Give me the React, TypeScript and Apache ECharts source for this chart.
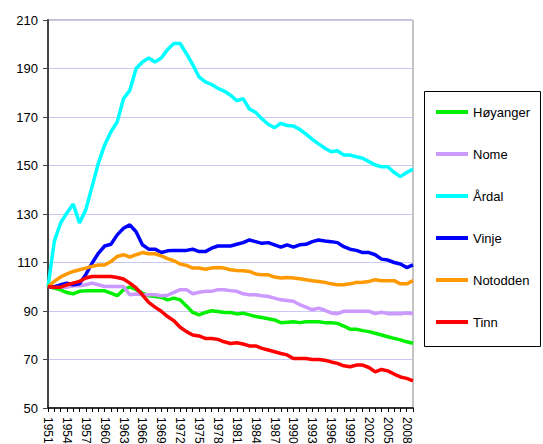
import React, { useEffect, useRef } from "react";
import * as echarts from "echarts";

const years: string[] = [];
for (let y = 1951; y <= 2009; y++) years.push(String(y));

const seriesNames = ["Høyanger", "Nome", "Årdal", "Vinje", "Notodden", "Tinn"];
const seriesColors = ["#00f000", "#cc99ff", "#00ffff", "#0000ff", "#ff9900", "#ff0000"];

const hoyanger = [100, 99.5, 98.7, 97.6, 97.1, 98.1, 98.3, 98.3, 98.3, 98.3, 97.4, 96.3, 98.8, 99.9, 98.8, 97.4, 96.3, 96.0, 95.7, 94.6,
  95.3, 94.6, 92.1, 89.4, 88.4, 89.4, 90.1, 89.8, 89.4, 89.4, 88.8, 89.1, 88.4, 87.7, 87.3, 86.8, 86.3, 85.2, 85.4, 85.6,
  85.2, 85.6, 85.6, 85.6, 85.2, 85.2, 84.9, 83.8, 82.5, 82.5, 81.9, 81.5, 80.8, 80.1, 79.4, 78.7, 78.1, 77.3, 76.7];
const nome = [100, 99.8, 99.8, 99.8, 100.4, 100.4, 100.8, 101.5, 100.8, 100.1, 100.1, 100.1, 100.1, 96.7, 97.0, 96.7, 96.7, 96.7, 96.3, 96.5,
  97.7, 98.8, 98.8, 97.1, 97.7, 98.1, 98.1, 98.8, 98.8, 98.4, 98.1, 97.1, 96.7, 96.7, 96.3, 96.0, 95.3, 94.6, 94.3, 94.0,
  92.6, 91.6, 90.5, 91.2, 90.3, 89.2, 88.9, 89.9, 89.9, 89.9, 89.9, 89.9, 88.9, 89.5, 88.9, 88.9, 88.9, 89.2, 88.9];
const ardal = [100, 118.7, 126.3, 130.4, 134.1, 126.3, 131.7, 141.3, 150.9, 158.5, 163.9, 168, 177.6, 181, 190, 192.7, 194.3, 192.7, 194.3, 197.8,
  200.3, 200.3, 196.1, 191.6, 186.5, 184.5, 183.4, 181.8, 180.7, 179, 176.7, 177.6, 173.3, 171.9, 169.2, 167, 165.6, 167.4, 166.5, 166.3,
  164.9, 162.9, 160.8, 158.9, 157.1, 155.7, 156.1, 154.3, 154.3, 153.6, 153, 151.6, 150.2, 149.5, 149.5, 147.1, 145.4, 147.1, 148.5];
const vinje = [100, 100, 100.8, 101.5, 100.8, 101.2, 105, 109.7, 113.8, 116.8, 117.5, 121.4, 124.1, 125.5, 122.7, 117.3, 115.5, 115.5, 114.1, 114.8,
  115, 115, 115, 115.5, 114.5, 114.5, 115.9, 116.8, 116.8, 116.8, 117.5, 118.2, 119.3, 118.6, 117.9, 118.2, 117.3, 116.3, 117.3, 116.3,
  117.3, 117.5, 118.6, 119.3, 118.9, 118.6, 118.2, 116.5, 115.5, 115, 114.1, 114.1, 113.2, 111.4, 111, 110, 109.4, 107.9, 109];
const notodden = [100, 102.2, 104, 105.3, 106.3, 107, 107.7, 108.4, 109, 109, 110.4, 112.5, 113.2, 112.2, 113.2, 114.1, 113.6, 113.6, 112.7, 111.6,
  110.7, 109.4, 108.8, 107.7, 107.7, 107.2, 107.7, 107.9, 107.7, 107, 106.7, 106.6, 106.3, 105.3, 104.9, 104.9, 104, 103.6, 103.8, 103.6,
  103.3, 102.9, 102.5, 102.2, 101.8, 101.2, 100.8, 100.8, 101.2, 101.8, 101.9, 102.2, 102.9, 102.5, 102.5, 102.5, 101.2, 101.2, 102.5];
const tinn = [100, 99.8, 99.8, 100.8, 101.5, 102.2, 103.6, 104.2, 104.2, 104.2, 104.2, 103.8, 103.2, 101.5, 99.5, 96.7, 93.6, 91.6, 89.9, 87.7,
  86, 83.3, 81.5, 80.1, 79.7, 78.7, 78.7, 78.3, 77.3, 76.6, 76.9, 76.4, 75.6, 75.6, 74.6, 73.9, 73.2, 72.5, 71.9, 70.4,
  70.4, 70.4, 70, 70, 69.7, 69, 68.4, 67.4, 67, 67.7, 67.7, 66.7, 64.9, 65.9, 65.3, 64, 62.8, 62.2, 61.2];

const seriesData = [hoyanger, nome, ardal, vinje, notodden, tinn];

const FONT = "'Liberation Sans', Arial, sans-serif";

export default function App() {
  const ref = useRef<HTMLDivElement>(null);
  useEffect(() => {
    if (!ref.current) return;
    const chart = echarts.init(ref.current, undefined, { renderer: "svg" });
    chart.setOption({
      animation: false,
      backgroundColor: "#ffffff",
      textStyle: { fontFamily: FONT },
      grid: {
        left: 48, top: 20, right: 130, bottom: 36,
        outerBoundsMode: "none",
        containLabel: false,
        show: true, borderColor: "#888888", borderWidth: 1, backgroundColor: "transparent",
      },
      graphic: [
        { type: "rect", shape: { x: 424.5, y: 91.5, width: 116, height: 255 }, style: { fill: "none", stroke: "#000", lineWidth: 1 } },
      ],
      legend: {
        orient: "vertical",
        left: 436, top: 105,
        padding: 0,
        icon: "rect",
        itemWidth: 32, itemHeight: 4, itemGap: 28,
        textStyle: { fontSize: 13, color: "#000", fontFamily: FONT, lineHeight: 14 },
        data: seriesNames,
      },
      xAxis: {
        type: "category",
        data: years,
        boundaryGap: false,
        axisLine: { lineStyle: { color: "#000", width: 1.5 } },
        axisTick: { show: true, interval: 0, length: 4, lineStyle: { color: "#000" } },
        axisLabel: { interval: 2, rotate: -90, fontSize: 12, color: "#000", margin: 9, fontFamily: FONT },
        splitLine: { show: false },
      },
      yAxis: {
        type: "value",
        min: 50, max: 210, interval: 20,
        axisLine: { show: true, lineStyle: { color: "#444", width: 2 } },
        axisTick: { show: true, length: 5, lineStyle: { color: "#444" } },
        axisLabel: { fontSize: 13, color: "#000", margin: 10, fontFamily: FONT },
        splitLine: { lineStyle: { color: "#c8c8f2", width: 1 } },
      },
      series: seriesNames.map((name, i) => ({
        name,
        type: "line",
        data: seriesData[i],
        symbol: "none",
        color: seriesColors[i],
        lineStyle: { width: 3.5, color: seriesColors[i] },
      })),
    });
    return () => chart.dispose();
  }, []);
  return (
    <div style={{ position: "fixed", left: 0, top: 0, width: 543, height: 444, background: "#fff" }}>
      <div ref={ref} style={{ width: 543, height: 444 }} />
    </div>
  );
}
